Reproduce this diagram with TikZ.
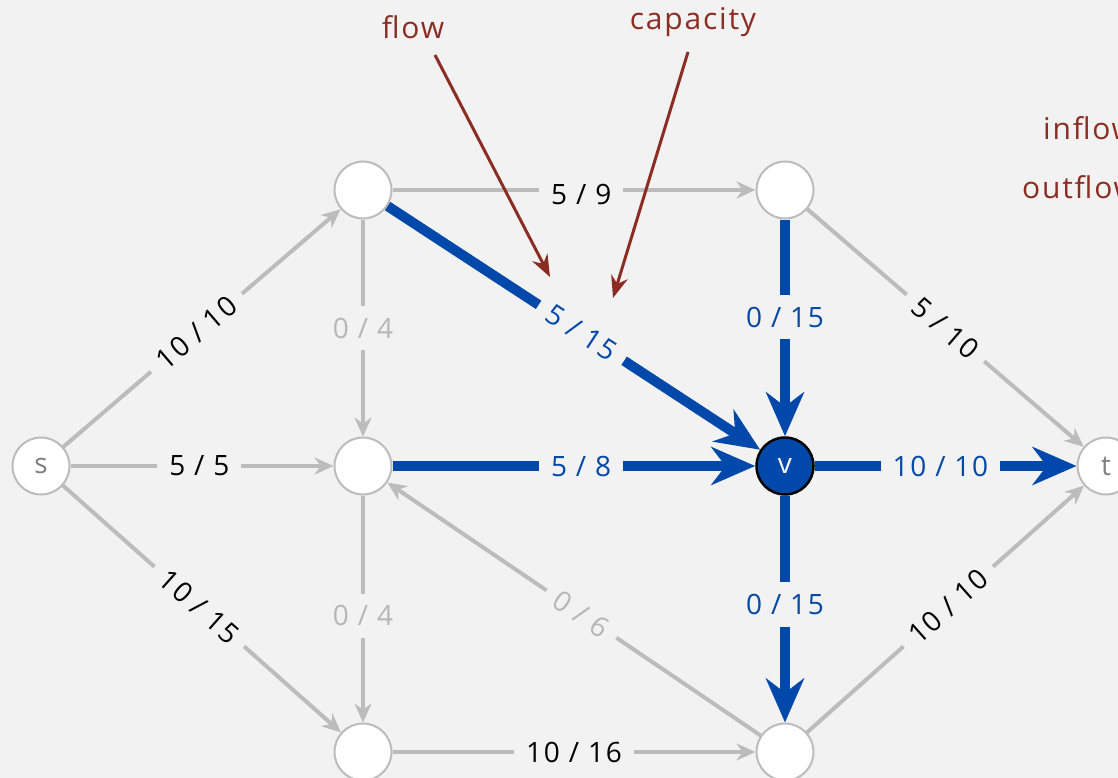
\documentclass[tikz,border=0pt]{standalone}
\usepackage{fontspec}
\setmainfont{Open Sans}
\usetikzlibrary{arrows.meta}
\definecolor{bg}{RGB}{242,242,242}
\definecolor{edgegray}{RGB}{188,188,188}
\definecolor{flowblue}{RGB}{0,72,170}
\definecolor{notered}{RGB}{140,45,35}
\definecolor{zerogray}{RGB}{182,182,182}

\begin{document}
\begin{tikzpicture}[x=1pt, y=-1pt,
  vertex/.style={circle, draw=edgegray, line width=2pt, fill=white, minimum size=57pt, inner sep=0pt, font=\fontsize{28}{30}\selectfont, text=gray},
  hot/.style={vertex, draw=black, line width=2.5pt, fill=flowblue, text=white},
  edge/.style={draw=edgegray, line width=4pt, -{Stealth[length=19pt, width=17pt]}},
  used/.style={draw=flowblue, line width=10pt, -{Stealth[length=44pt, width=38pt]}},
  lbl/.style={fill=bg, inner sep=12pt, font=\fontsize{28}{30}\selectfont\addfontfeature{LetterSpace=6}, text=black},
  zero/.style={lbl, text=zerogray},
  hotlbl/.style={lbl, text=flowblue},
  note/.style={font=\fontsize{30}{32}\selectfont\addfontfeature{LetterSpace=6}, text=notered},
  pointer/.style={draw=notered, line width=3pt, -{Stealth[length=22pt, width=17pt]}}
]
\useasboundingbox (0,0) rectangle (1118,778);
\fill[bg] (0,0) rectangle (1118,778);
\clip (0,0) rectangle (1118,778);

% vertices
\node[vertex] (s) at (41,466) {s};
\node[vertex] (a) at (363,190) {};
\node[vertex] (b) at (785,190) {};
\node[vertex] (c) at (363,466) {};
\node[hot] (v) at (785,466) {v};
\node[vertex] (t) at (1106,466) {t};
\node[vertex] (d) at (363,752) {};
\node[vertex] (e) at (785,752) {};

% gray edges
\draw[edge] (s) -- node[lbl, sloped, pos=0.48] {10 / 10} (a);
\draw[edge] (s) -- node[lbl, pos=0.49] {5 / 5} (c);
\draw[edge] (s) -- node[lbl, sloped, pos=0.49] {10 / 15} (d);
\draw[edge] (a) -- node[lbl, pos=0.52, yshift=-4pt] {5 / 9} (b);
\draw[edge] (a) -- node[zero, pos=0.5] {0 / 4} (c);
\draw[edge] (c) -- node[zero, pos=0.53] {0 / 4} (d);
\draw[edge] (e) -- node[zero, sloped, pos=0.48] {0 / 6} (c);
\draw[edge] (d) -- node[lbl, pos=0.5] {10 / 16} (e);
\draw[edge] (b) -- node[lbl, sloped, pos=0.5] {5 / 10} (t);
\draw[edge] (e) -- node[lbl, sloped, pos=0.51] {10 / 10} (t);

% edges at v
\draw[used] (a) -- node[hotlbl, sloped, pos=0.52] {5 / 15} (v);
\draw[used] (b) -- node[hotlbl, pos=0.45] {0 / 15} (v);
\draw[used] (c) -- node[hotlbl, pos=0.52] {5 / 8} (v);
\draw[used] (v) -- node[hotlbl, pos=0.48] {10 / 10} (t);
\draw[used] (v) -- node[hotlbl, pos=0.48] {0 / 15} (e);

% notes
\node[note] (flow) at (413,27) {flow};
\node[note] (cap) at (693,22) {capacity};
\node[note, inner sep=0pt, anchor=base west] (inflow) at (1043,140) {inflow};
\node[note, inner sep=0pt, anchor=base west] (outflow) at (1022,198) {outflow};
\coordinate (flowfrom) at (435,55);
\coordinate (flowto) at (550,277);
\coordinate (capfrom) at (688,52);
\coordinate (capto) at (613,298);
\draw[pointer] (flowfrom) -- (flowto);
\draw[pointer] (capfrom) -- (capto);
\end{tikzpicture}
\end{document}
